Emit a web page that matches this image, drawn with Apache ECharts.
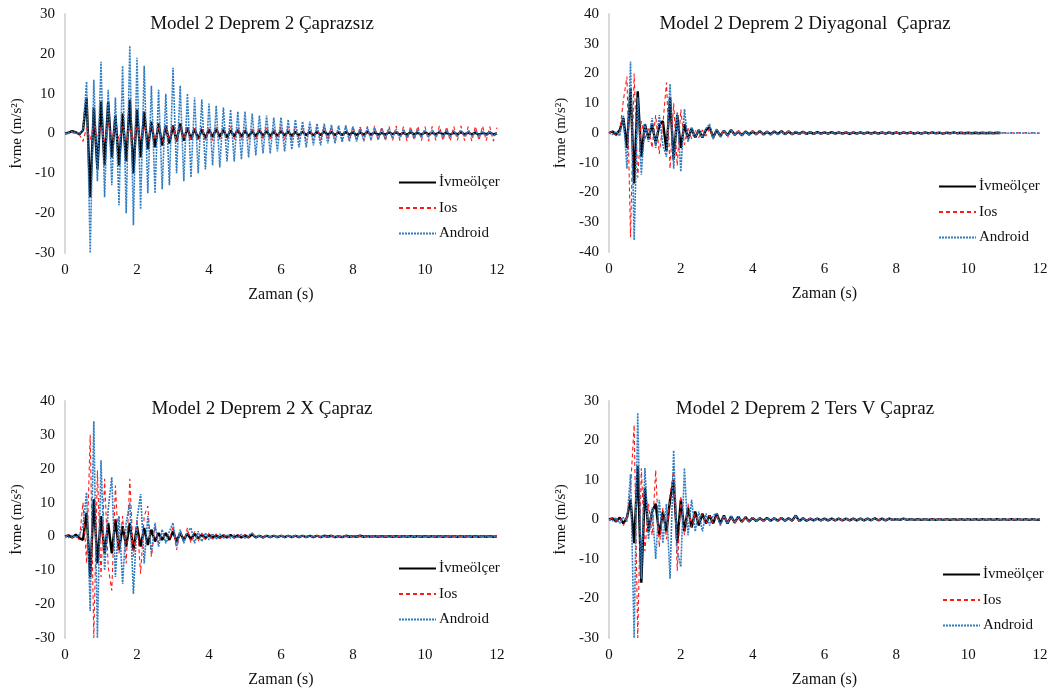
<!DOCTYPE html>
<html>
<head>
<meta charset="utf-8">
<script src="https://cdn.jsdelivr.net/npm/echarts@6/dist/echarts.min.js"></script>
<style>
html,body{margin:0;padding:0;background:#fff;}
#c{width:1060px;height:691px;}
</style>
</head>
<body>
<div id="c"></div>
<script>
// ---- Data (sampled every 0.1 s, one row per second) ----
const timeStep = 0.1;
const xTicks = [0, 2, 4, 6, 8, 10, 12];
const seriesNames = ['İvmeölçer', 'Ios', 'Android'];
const titles = ['Model 2 Deprem 2 Çaprazsız', 'Model 2 Deprem 2 Diyagonal  Çapraz', 'Model 2 Deprem 2 X Çapraz', 'Model 2 Deprem 2 Ters V Çapraz'];
const yRanges = [[-30, 30], [-40, 40], [-30, 40], [-30, 30]];

// Chart 1: Çaprazsız
const c1Ivmeolcer = [
  0, 0.2, 0.6, 0.3, -0.2, 0.8, 9, -16, 6.5, -9,
  8, -8, 8, -6, 4.5, -8, 5, -7, 8.5, -10,
  6, -6, 5.5, -4, 3, -3.5, 2.5, -3, 2, -2.5,
  2, -2, 2.5, -1.8, 1.5, -1.5, 1.2, -1.4, 1, -1.2,
  1, -0.9, 1.1, -0.8, 0.9, -1, 0.8, -0.7, 0.9, -0.8,
  0.7, -0.8, 0.6, -0.7, 0.8, -0.6, 0.6, -0.7, 0.5, -0.6,
  0.6, -0.5, 0.5, -0.6, 0.4, -0.5, 0.5, -0.4, 0.4, -0.5,
  0.4, -0.4, 0.5, -0.3, 0.4, -0.4, 0.3, -0.4, 0.4, -0.3,
  0.3, -0.4, 0.3, -0.3, 0.4, -0.3, 0.3, -0.3, 0.2, -0.3,
  0.3, -0.2, 0.3, -0.3, 0.2, -0.3, 0.3, -0.2, 0.2, -0.3,
  0.3, -0.2, 0.2, -0.2, 0.3, -0.2, 0.2, -0.3, 0.2, -0.2,
  0.3, -0.2, 0.2, -0.2, 0.2, -0.3, 0.2, -0.2, 0.2, -0.2,
  0
];
const c1Ios = [
  0, 0, 0.2, 0, -0.3, -2, 1.5, -1.5, 2, -1,
  1.5, -2, 2.5, -1.5, 2, -1.5, 1.8, -2, 1.5, -1.8,
  2, -1.5, 1.8, -2, 2.2, -1.6, 1.9, -2, 2, -1.5,
  1.8, -1.7, 2, -1.5, 1.7, -1.8, 1.6, -1.5, 1.8, -1.7,
  1.5, -1.8, 1.7, -1.5, 1.6, -1.7, 1.8, -1.5, 1.6, -1.8,
  1.7, -1.6, 1.5, -1.8, 1.7, -1.6, 1.8, -1.7, 1.5, -1.6,
  1.8, -1.7, 1.6, -1.8, 1.7, -1.5, 1.8, -1.7, 1.6, -1.8,
  1.7, -1.8, 1.9, -1.7, 1.8, -1.9, 1.7, -1.8, 2, -1.7,
  1.8, -1.9, 1.7, -2, 1.8, -1.7, 1.9, -1.8, 1.7, -1.9,
  1.8, -1.7, 1.9, -1.8, 1.7, -1.9, 1.8, -1.7, 1.9, -1.8,
  1.7, -1.9, 1.8, -1.7, 1.9, -1.8, 1.7, -1.9, 1.8, -1.7,
  1.9, -1.8, 1.7, -1.9, 1.8, -1.7, 1.9, -1.8, 1.7, -1.9,
  1.5
];
const c1Android = [
  0, 0.2, 0.5, 0.2, 0, 1, 13, -30, 13.5, -12,
  18, -16, 11, -13, 9, -18, 17, -20, 22, -23,
  19, -19, 17, -15, 12, -15, 11, -14, 10, -13,
  16.5, -10, 12, -12, 10, -11, 9, -10, 8.5, -9,
  7.5, -8, 7, -8.5, 6.5, -7, 6, -7, 5.5, -6.5,
  5.5, -6, 5, -5.5, 4.5, -5, 4.5, -5, 4, -4.5,
  4, -4.5, 3.5, -4, 3.5, -3.5, 3, -3.5, 3, -3,
  2.5, -3, 2.5, -2.5, 2.2, -2.5, 2, -2.2, 2, -2,
  1.8, -2, 1.6, -1.8, 1.5, -1.6, 1.4, -1.5, 1.3, -1.4,
  1.2, -1.3, 1.1, -1.2, 1.1, -1.1, 1, -1.1, 1, -1,
  0.9, -1, 0.9, -0.9, 0.8, -0.9, 0.8, -0.8, 0.8, -0.8,
  0.7, -0.8, 0.7, -0.7, 0.7, -0.7, 0.6, -0.7, 0.6, -0.6,
  0
];

// Chart 2: Diyagonal Çapraz
const c2Ivmeolcer = [
  0, 0.5, -0.5, 1, 5, -5, 15, -17, 14, -8,
  3, -2, 3, -3.5, 2.5, 4, -6, 12, -9, 6,
  -5, 3, -2, 1.5, -1.5, 1, -1.5, 1, 2, -1.5,
  1, -1, 0.8, -0.8, 1, -0.6, 0.5, -0.7, 0.5, -0.5,
  0.5, -0.4, 0.6, -0.5, 0.4, -0.4, 0.5, -0.3, 0.6, -0.4,
  0.5, -0.4, 0.3, -0.3, 0.4, -0.3, 0.3, -0.3, 0.3, -0.2,
  0.2, -0.2, 0.3, -0.2, 0.2, -0.2, 0.2, -0.3, 0.2, -0.2,
  0.2, -0.2, 0.2, -0.2, 0.2, -0.2, 0.2, -0.2, 0.2, -0.2,
  0.2, -0.2, 0.2, -0.1, 0.2, -0.2, 0.1, -0.2, 0.2, -0.1,
  0.2, -0.1, 0.1, -0.2, 0.1, -0.1, 0.2, -0.1, 0.1, -0.1,
  0.1, -0.1, 0.1, -0.1, 0.1, -0.1, 0.1, -0.1, 0.1, 0
];
const c2Ios = [
  0, 0.5, -1, 0.5, 11, 19, -35, 20, -15, 4,
  -2, 2, -5, 6, -7, 3, 17, -12, 10, -11,
  8, -4, 2, -2, 1, -1.5, 1, -1, 1.5, -2,
  1.5, -1, 1, -1.5, 0.8, -1, 1, -0.8, 0.6, -0.8,
  0.7, -0.6, 0.8, -0.5, 0.6, -0.7, 0.5, -0.6, 0.5, -0.5,
  0.6, -0.5, 0.4, -0.5, 0.4, -0.4, 0.5, -0.4, 0.3, -0.4,
  0.3, -0.3, 0.4, -0.3, 0.3, -0.3, 0.3, -0.4, 0.3, -0.3,
  0.3, -0.3, 0.2, -0.3, 0.3, -0.2, 0.3, -0.3, 0.2, -0.2,
  0.2, -0.2, 0.3, -0.2, 0.2, -0.2, 0.2, -0.2, 0.2, -0.2,
  0.2, -0.2, 0.2, -0.1, 0.2, -0.2, 0.1, -0.2, 0.2, -0.1,
  0.1, -0.2, 0.1, -0.1, 0.2, -0.1, 0.1, -0.1, 0.1, -0.1,
  0.1, -0.1, 0.1, -0.1, 0.1, -0.1, 0.1, -0.1, 0.1, -0.1,
  0
];
const c2Android = [
  0, -0.5, 0.5, -1, 6, -12, 24, -36, 12, -14,
  3, -3, 5, -5, 6, -4, -8, 16.5, -12, 7,
  -13, 8, -3, 2, -1.5, 1, -1.5, 1.5, 3, -2,
  1.5, -1.5, 1, -1, 1.2, -0.8, 0.8, -1, 0.6, -0.8,
  0.8, -0.6, 0.7, -0.6, 0.6, -0.7, 0.5, -0.6, 0.5, -0.5,
  0.8, -0.5, 0.5, -0.4, 0.4, -0.4, 0.4, -0.3, 0.3, -0.4,
  0.3, -0.3, 0.3, -0.3, 0.3, -0.3, 0.3, -0.3, 0.3, -0.3,
  0.3, -0.2, 0.3, -0.3, 0.2, -0.3, 0.3, -0.2, 0.2, -0.2,
  0.2, -0.2, 0.2, -0.2, 0.2, -0.2, 0.2, -0.2, 0.2, -0.2,
  0.2, -0.1, 0.2, -0.2, 0.1, -0.2, 0.2, -0.1, 0.1, -0.2,
  0.1, -0.1, 0.2, -0.1, 0.1, -0.1, 0.1, -0.1, 0.1, -0.1,
  0.1, -0.1, 0.1, -0.1, 0.1, -0.1, 0.1, -0.1, 0.1, -0.1,
  0
];

// Chart 3: X Çapraz
const c3Ivmeolcer = [
  0, 0.3, -0.3, 0.5, -0.5, -1, 7, -12, 11, -8,
  6, -5, 4, -5, 5, -4, 3, -3, 4, -4,
  3, -3, 2.5, -2.5, 2, -1.5, 1, -1, 1, -1,
  1.5, -1.5, 1, -1, 0.8, -0.8, 0.8, -0.6, 0.5, -0.5,
  0.4, -0.4, 0.3, -0.4, 0.3, -0.3, 0.4, -0.3, 0.3, -0.3,
  0.3, -0.3, 0.6, -0.3, 0.2, -0.3, 0.2, -0.2, 0.2, -0.2,
  0.2, -0.2, 0.2, -0.2, 0.2, -0.2, 0.2, -0.2, 0.2, -0.2,
  0.2, -0.2, 0.2, -0.1, 0.2, -0.2, 0.1, -0.2, 0.2, -0.1,
  0.1, -0.1, 0.2, -0.1, 0.1, -0.1, 0.1, -0.1, 0.1, -0.1,
  0.1, -0.1, 0.1, -0.1, 0.1, -0.1, 0.1, -0.1, 0.1, -0.1,
  0.1, -0.1, 0.1, -0.1, 0.1, -0.1, 0.1, -0.1, 0.1, -0.1,
  0.1, -0.1, 0.1, -0.1, 0.1, -0.1, 0.1, -0.1, 0.1, -0.1,
  0
];
const c3Ios = [
  0, 0.4, -0.4, 0.3, -1, 10, -8, 30, -30, 19.5,
  -12, 17, -9, -16, 15, -5, 6, -8, 17, -6,
  5, -11, 6, 9, -6, 3, -2, 2, -1.5, -1,
  3, -4, 1.5, -1.5, 2.5, -2, 1.5, -1.5, 1, -1,
  1, -0.8, 0.8, -0.7, 0.6, -0.6, 0.5, -0.5, 0.6, -0.5,
  0.5, -0.4, 1, -0.4, 0.3, -0.4, 0.3, -0.3, 0.3, -0.3,
  0.3, -0.3, 0.3, -0.2, 0.3, -0.3, 0.2, -0.3, 0.2, -0.2,
  0.3, -0.2, 0.2, -0.2, 0.2, -0.2, 0.2, -0.2, 0.2, -0.2,
  0.2, -0.2, 0.2, -0.1, 0.2, -0.2, 0.1, -0.2, 0.2, -0.1,
  0.1, -0.1, 0.2, -0.1, 0.1, -0.1, 0.1, -0.1, 0.1, -0.1,
  0.1, -0.1, 0.1, -0.1, 0.1, -0.1, 0.1, -0.1, 0.1, -0.1,
  0.1, -0.1, 0.1, -0.1, 0.1, -0.1, 0.1, -0.1, 0.1, -0.1,
  0
];
const c3Android = [
  0, -0.3, 0.3, -0.3, 0.5, 3, 13, -22, 34, -30,
  22.5, -10, 8, 17.5, -12, 6, -14, 4, 10, -17,
  5, 12.5, -8, 6, -5, 4, -3, 2, -2, 1.5,
  4, -3, 2, -2, 1.5, 2.5, -2, 1.5, -1.5, 1,
  -1, 0.8, -0.8, 0.7, -0.6, 0.6, -0.5, 0.5, -0.5, 0.6,
  -0.5, 0.4, 1, -0.4, 0.3, -0.4, 0.3, -0.3, 0.3, -0.3,
  0.3, -0.3, 0.2, -0.3, 0.3, -0.2, 0.3, -0.2, 0.2, -0.2,
  0.2, -0.2, 0.2, -0.2, 0.2, -0.2, 0.2, -0.2, 0.2, -0.2,
  0.2, -0.1, 0.2, -0.2, 0.1, -0.2, 0.2, -0.1, 0.1, -0.1,
  0.1, -0.1, 0.1, -0.1, 0.1, -0.1, 0.1, -0.1, 0.1, -0.1,
  0.1, -0.1, 0.1, -0.1, 0.1, -0.1, 0.1, -0.1, 0.1, -0.1,
  0.1, -0.1, 0.1, -0.1, 0.1, -0.1, 0.1, -0.1, 0.1, -0.1,
  0
];

// Chart 4: Ters V Çapraz
const c4Ivmeolcer = [
  0, 0.3, -0.5, 0.5, -1, 0.5, 5, -6, 13.5, -16,
  8, -3, 2, 4, -4, 2, -3, 5, 10, -6,
  5, -3, 3, -2, 2, -1.5, 1.5, -1, 1, -1,
  1.5, -1, 1, -1, 0.8, -0.8, 0.7, -0.6, 0.6, -0.5,
  0.4, -0.4, 0.3, -0.3, 0.4, -0.3, 0.3, -0.3, 0.4, -0.3,
  0.3, -0.3, 1, -0.4, 0.3, -0.3, 0.2, -0.2, 0.2, -0.2,
  0.2, -0.2, 0.2, -0.2, 0.2, -0.2, 0.2, -0.2, 0.2, -0.2,
  0.2, -0.2, 0.2, -0.2, 0.3, -0.2, 0.2, -0.2, 0.2, -0.1,
  0.1, -0.1, 0.2, -0.1, 0.1, -0.1, 0.1, -0.1, 0.1, -0.1,
  0.1, -0.1, 0.1, -0.1, 0.1, -0.1, 0.1, -0.1, 0.1, -0.1,
  0.1, -0.1, 0.1, -0.1, 0.1, -0.1, 0.1, -0.1, 0.1, -0.1,
  0.1, -0.1, 0.1, -0.1, 0.1, -0.1, 0.1, -0.1, 0.1, -0.1,
  0
];
const c4Ios = [
  0, 0.3, -0.5, 0.4, -1.5, 0.5, 8, 24, -30, 13,
  -8, 4, -4, 12.5, -7, 3, -5, 6, 13, -13,
  6, -4, 4, -2, 1.5, -1, 1.5, -1, 1, -1,
  1, -1.5, 1, -0.8, 0.8, -1, 0.6, -0.6, 0.5, -0.5,
  0.5, -0.4, 0.4, -0.4, 0.4, -0.3, 0.4, -0.3, 0.5, -0.3,
  0.3, -0.3, 1, -0.5, 0.3, -0.3, 0.3, -0.2, 0.2, -0.3,
  0.2, -0.2, 0.3, -0.2, 0.2, -0.2, 0.2, -0.2, 0.2, -0.2,
  0.2, -0.2, 0.2, -0.2, 0.3, -0.2, 0.2, -0.2, 0.2, -0.2,
  0.2, -0.1, 0.2, -0.1, 0.1, -0.2, 0.1, -0.1, 0.1, -0.1,
  0.1, -0.1, 0.1, -0.1, 0.1, -0.1, 0.1, -0.1, 0.1, -0.1,
  0.1, -0.1, 0.1, -0.1, 0.1, -0.1, 0.1, -0.1, 0.1, -0.1,
  0.1, -0.1, 0.1, -0.1, 0.1, -0.1, 0.1, -0.1, 0.1, -0.1,
  0
];
const c4Android = [
  0, -0.3, 0.5, -1, 0.5, -0.5, 11.5, -30, 27, -15,
  13, -5, 3, -10, 5, -6, 4, -15, 17.5, -8,
  -12, 13, -4, 5, -3, 2, -3, 1.5, -1.5, 1,
  1.5, -1.5, 1, -1, 0.8, -0.8, 0.8, -0.6, 0.6, -0.6,
  0.5, -0.5, 0.4, -0.4, 0.4, -0.4, 0.3, -0.4, 0.4, -0.3,
  0.3, -0.4, 1, -0.5, 0.3, -0.3, 0.3, -0.3, 0.2, -0.3,
  0.2, -0.3, 0.2, -0.2, 0.2, -0.2, 0.2, -0.2, 0.2, -0.2,
  0.2, -0.2, 0.2, -0.2, 0.2, -0.2, 0.2, -0.2, 0.2, -0.2,
  0.2, -0.1, 0.2, -0.1, 0.1, -0.2, 0.1, -0.1, 0.1, -0.1,
  0.1, -0.1, 0.1, -0.1, 0.1, -0.1, 0.1, -0.1, 0.1, -0.1,
  0.1, -0.1, 0.1, -0.1, 0.1, -0.1, 0.1, -0.1, 0.1, -0.1,
  0.1, -0.1, 0.1, -0.1, 0.1, -0.1, 0.1, -0.1, 0.1, -0.1,
  0
];

const chartSeries = [
  [c1Ivmeolcer, c1Ios, c1Android],
  [c2Ivmeolcer, c2Ios, c2Android],
  [c3Ivmeolcer, c3Ios, c3Android],
  [c4Ivmeolcer, c4Ios, c4Android]
];

// ---- Layout / style ----
const FONT = '"Liberation Serif", "Times New Roman", serif';
const grids = [
  {left: 65, top: 14, width: 432, height: 239},
  {left: 609, top: 14, width: 431, height: 238},
  {left: 65, top: 401, width: 432, height: 237},
  {left: 609, top: 401, width: 431, height: 237}
];
const titlePos = [[257, 10], [800, 10], [257, 395], [800, 395]];
const legendPos = [[398, 175], [938, 179], [398, 561], [942, 567]];
const lineStyles = [
  {color: '#000000', width: 2.4, type: 'solid'},
  {color: '#FF1A1A', width: 1.1, type: [4, 3]},
  {color: '#2F7CC2', width: 1.6, type: [2, 1]}
];

function toPairs(vals) {
  return vals.map((v, i) => [Math.round(i * timeStep * 10) / 10, v]);
}

const option = {
  animation: false,
  backgroundColor: '#ffffff',
  title: titles.map((t, k) => ({
    text: t, left: titlePos[k][0], top: titlePos[k][1], textAlign: 'center',
    textStyle: {fontFamily: FONT, fontSize: 19, fontWeight: 'normal', color: '#111'}
  })),
  legend: legendPos.map((p, k) => ({
    left: p[0], top: p[1], orient: 'vertical', itemWidth: 37, itemHeight: 12, itemGap: 10.5,
    data: seriesNames, selectedMode: false,
    itemStyle: {opacity: 0},
    textStyle: {fontFamily: FONT, fontSize: 15, color: '#111', padding: [0, 0, 0, -2]},
    padding: 0
  })),
  grid: grids,
  xAxis: grids.map((g, k) => ({
    gridIndex: k, type: 'value', min: xTicks[0], max: xTicks[xTicks.length - 1], interval: xTicks[1] - xTicks[0],
    name: 'Zaman (s)', nameLocation: 'middle', nameGap: 34,
    nameTextStyle: {fontFamily: FONT, fontSize: 16, color: '#111'},
    axisLine: {show: false}, axisTick: {show: false}, splitLine: {show: false},
    axisLabel: {fontFamily: FONT, fontSize: 15, color: '#111', margin: 10}
  })),
  yAxis: grids.map((g, k) => ({
    gridIndex: k, type: 'value', min: yRanges[k][0], max: yRanges[k][1], interval: 10,
    name: 'İvme (m/s²)', nameLocation: 'middle', nameGap: 40,
    nameTextStyle: {fontFamily: FONT, fontSize: 15, color: '#111'},
    axisLine: {show: true, onZero: false, lineStyle: {color: '#d9d9d9', width: 2}},
    axisTick: {show: false}, splitLine: {show: false},
    axisLabel: {fontFamily: FONT, fontSize: 15, color: '#111', margin: 10}
  })),
  series: []
};

chartSeries.forEach((trio, k) => {
  trio.forEach((vals, j) => {
    option.series.push({
      type: 'line', name: seriesNames[j], xAxisIndex: k, yAxisIndex: k,
      data: toPairs(vals), showSymbol: false, symbol: 'none', smooth: false,
      lineStyle: lineStyles[j], itemStyle: {color: lineStyles[j].color},
      z: 2 + j, silent: true
    });
  });
});

const chart = echarts.init(document.getElementById('c'), null, {renderer: 'canvas'});
chart.setOption(option);
</script>
</body>
</html>
